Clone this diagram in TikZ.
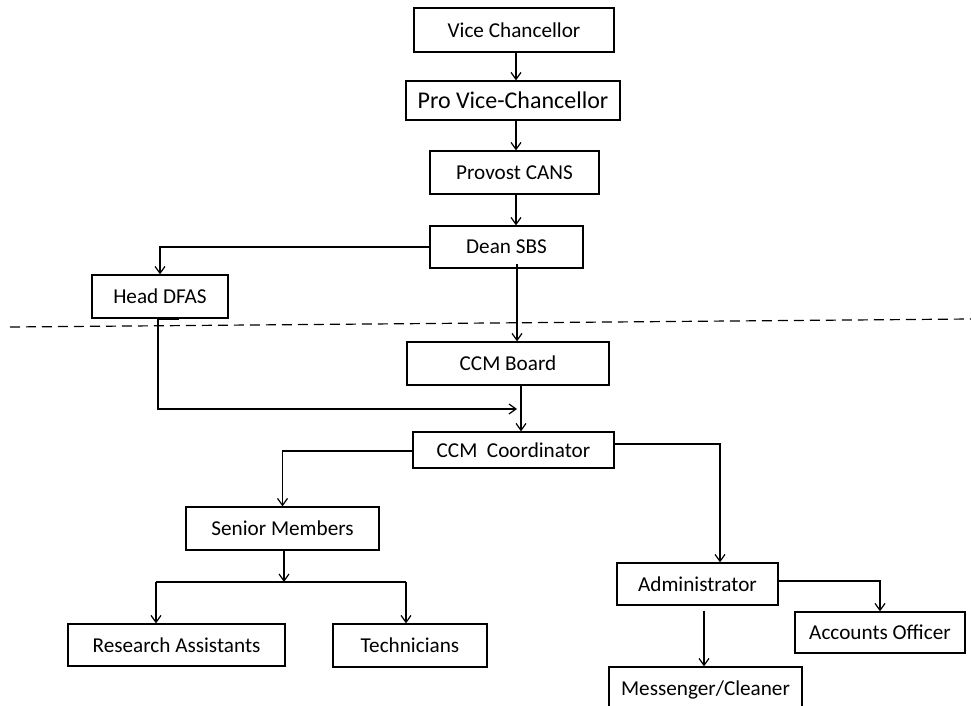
\documentclass[tikz,border=0pt]{standalone}
\usepackage{fontspec}
\setmainfont{Carlito}
\usetikzlibrary{arrows.meta}
\begin{document}
\begin{tikzpicture}[x=1pt,y=-1pt,
  box/.style={draw, line width=1.2pt, inner sep=0pt, font=\fontsize{21.2}{25}\selectfont},
  big/.style={font=\fontsize{24}{28}\selectfont},
  arr/.style={line width=1.2pt, -{Straight Barb[length=7pt,width=10pt,line width=1.2pt]}},
  ln/.style={line width=1.2pt},
  divider/.style={line width=1.2pt, dash pattern=on 10pt off 6pt}]
\useasboundingbox (0,0) rectangle (971,706);
% boxes
\node[box, minimum width=200pt, minimum height=44pt] (vc) at (514,30) {Vice Chancellor};
\node[box, big, minimum width=214pt, minimum height=39pt] (pvc) at (513,100.5) {Pro Vice-Chancellor};
\node[box, minimum width=169pt, minimum height=43pt] (prov) at (514.5,172.5) {Provost CANS};
\node[box, minimum width=153pt, minimum height=42pt] (dean) at (506.5,247) {Dean SBS};
\node[box, minimum width=136pt, minimum height=43pt] (head) at (160,296.5) {Head DFAS};
\node[box, minimum width=202pt, minimum height=43pt] (board) at (508,363.5) {CCM Board};
\node[box, minimum width=201pt, minimum height=36pt] (coord) at (513.5,450) {CCM\ \ Coordinator};
\node[box, minimum width=193pt, minimum height=43pt] (senior) at (282.5,528.5) {Senior Members};
\node[box, minimum width=217pt, minimum height=42pt] (ra) at (176.5,645) {Research Assistants};
\node[box, minimum width=154pt, minimum height=43pt] (tech) at (410,645.5) {Technicians};
\node[box, minimum width=161pt, minimum height=42pt] (admin) at (697.5,584) {Administrator};
\node[box, minimum width=170pt, minimum height=41pt] (acct) at (880,632.5) {Accounts Officer};
\node[box, minimum width=193pt, minimum height=45pt] (mess) at (705.5,689.5) {Messenger/Cleaner};
% divider
\draw[divider] (10,327) -- (971,319);
% connectors
\coordinate (c1) at ([xshift=2pt]vc.south);
\draw[arr] (c1) -- (c1 |- pvc.north);
\coordinate (c2) at ([xshift=3pt]pvc.south);
\draw[arr] (c2) -- (c2 |- prov.north);
\coordinate (c3) at ([xshift=1.5pt]prov.south);
\draw[arr] (c3) -- (c3 |- dean.north);
\draw[arr] (dean.west) -| (head.north);
\coordinate (c4) at ([xshift=10.5pt,yshift=5pt]dean.south);
\draw[arr] (c4) -- (c4 |- board.north);
% head DFAS to coordinator junction
\draw[line width=2.2pt] ([xshift=-2pt]head.south) -- ([xshift=19pt]head.south);
\coordinate (j) at (517,409);
\draw[arr] ([xshift=-2pt]head.south) |- (j);
\coordinate (c5) at ([xshift=13pt]board.south);
\draw[arr] (c5) -- (c5 |- coord.north);
% coordinator to senior members
\draw[arr] ([yshift=-1pt]coord.west) -| (senior.north);
\coordinate (s) at ([xshift=1.5pt]senior.south |- 0,582);
\draw[arr] ([xshift=1.5pt]senior.south) -- (s);
\coordinate (raT) at ([xshift=-20.5pt]ra.north);
\coordinate (teT) at ([xshift=-4pt]tech.north);
\draw[ln] (raT |- s) -- (teT |- s);
\draw[arr] (raT |- s) -- (raT);
\draw[arr] (teT |- s) -- (teT);
% coordinator to administrator
\coordinate (adT) at ([xshift=22.5pt]admin.north);
\draw[arr] ([yshift=6pt]coord.east) -| (adT);
\draw[arr] ([yshift=3pt]admin.east) -| (acct.north);
\coordinate (c6) at ([xshift=6.5pt,yshift=-5pt]admin.south);
\draw[arr] (c6) -- (c6 |- mess.north);
\end{tikzpicture}
\end{document}
